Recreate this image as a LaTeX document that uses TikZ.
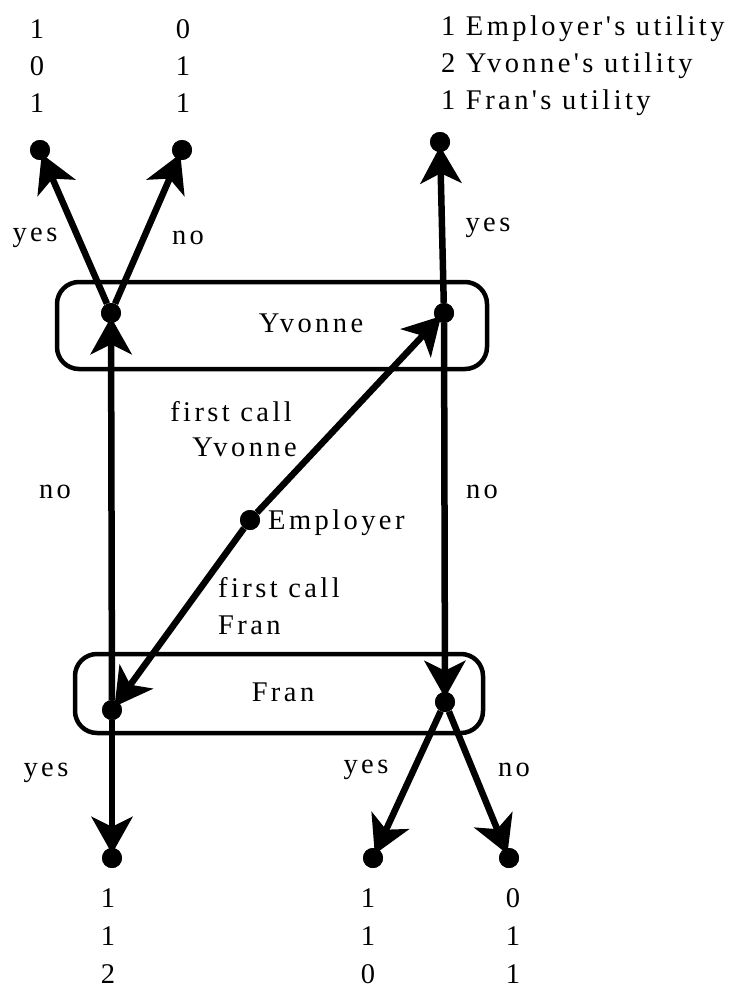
\documentclass[tikz,border=0pt]{standalone}
\usepackage{fontspec}
\newfontfamily\tmsfont{Liberation Serif}[LetterSpace=12]
\usetikzlibrary{arrows.meta}
\begin{document}
\begin{tikzpicture}[x=1pt,y=-1pt,
  txt/.style={font=\tmsfont\fontsize{28.5}{37}\selectfont, inner sep=0pt, align=center},
  dot/.style={circle, fill, inner sep=0pt, minimum size=20pt},
  arr/.style={line width=6.5pt, -{Stealth[length=37pt,width=41pt,inset=10pt]}, shorten >=-6pt},
  grp/.style={draw, line width=4.5pt, rounded corners=22pt, inner sep=0pt}]
\useasboundingbox (0,0) rectangle (734,990);
% information sets
\node[grp, minimum width=430pt, minimum height=87pt] (ybox) at (272,325.5) {};
\node[grp, minimum width=408pt, minimum height=79pt] (fbox) at (279,693.5) {};
\node[txt] (ylab) at (311,323) {Yvonne};
\node[txt] (flab) at (283,692) {Fran};
% decision nodes
\node[dot] (emp) at (250,520) {};
\node[dot] (yl) at (111,313) {};
\node[dot] (yr) at (444,313) {};
\node[dot] (fl) at (112,710) {};
\node[dot] (fr) at (445,702) {};
% leaves
\node[dot] (t1) at (40,150) {};
\node[dot] (t2) at (182,150) {};
\node[dot] (t3) at (440,142) {};
\node[dot] (b1) at (112,858) {};
\node[dot] (b2) at (373,858) {};
\node[dot] (b3) at (509,858) {};
% connectors
\draw[arr] (yl) -- (t1);
\draw[arr] (yl) -- (t2);
\draw[arr] (yr) -- (t3);
\draw[arr] (emp) -- (yr);
\draw[arr] (emp) -- (fl);
\draw[arr] (fl) -- (yl);
\draw[arr] (yr) -- (fr);
\draw[arr] (fl) -- (b1);
\draw[arr] (fr) -- (b2);
\draw[arr] (fr) -- (b3);
% redraw dots on top
\foreach \n in {emp,yl,yr,fl,fr,t1,t2,t3,b1,b2,b3} \fill (\n) circle (10pt);
% labels
\node[txt, anchor=west] (elab) at (268,523) {Employer};
\node[txt] (l1) at (35,238) {yes};
\node[txt] (l2) at (188,238) {no};
\node[txt] (l3) at (488,228) {yes};
\node[txt] (l4) at (55,492) {no};
\node[txt] (l5) at (482,492) {no};
\node[txt, anchor=east] (l6) at (292,412) {first call};
\node[txt, anchor=east] (l7) at (297,447) {Yvonne};
\node[txt, anchor=west] (l8) at (218,588) {first call};
\node[txt, anchor=west] (l9) at (218,625) {Fran};
\node[txt] (l10) at (46,773) {yes};
\node[txt] (l11) at (366,770) {yes};
\node[txt] (l12) at (514,770) {no};
% payoffs
\node[txt] (p1) at (37,66) {1\\0\\1};
\node[txt] (p2) at (183,66) {0\\1\\1};
\node[txt, anchor=west, align=left] (p3) at (441,66) {1 Employer's utility\\2 Yvonne's utility\\1 Fran's utility};
\node[txt, font=\tmsfont\fontsize{28.5}{38}\selectfont] (p4) at (108,936) {1\\1\\2};
\node[txt, font=\tmsfont\fontsize{28.5}{38}\selectfont] (p5) at (368,936) {1\\1\\0};
\node[txt, font=\tmsfont\fontsize{28.5}{38}\selectfont] (p6) at (513,936) {0\\1\\1};
\end{tikzpicture}
\end{document}
